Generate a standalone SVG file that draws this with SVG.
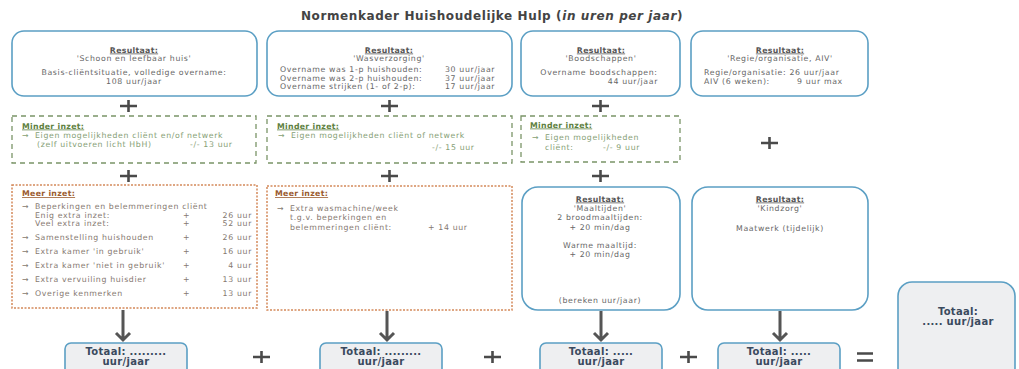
<svg xmlns="http://www.w3.org/2000/svg" width="1019" height="369" viewBox="0 0 1019 369">
<defs>
<style>
text{font-family:"DejaVu Sans","Liberation Sans",sans-serif;font-size:7.8px;letter-spacing:0.65px;fill:#666}
.title{font-size:12px;letter-spacing:0.6px;font-weight:bold;fill:#444}
.c{text-anchor:middle}
.e{text-anchor:end}
.hd{font-weight:bold;text-decoration:underline;fill:#555;letter-spacing:0.3px}
.blue{fill:#fff;stroke:#5b9fc4;stroke-width:1.6}
.minder{fill:#fff;stroke:#7a9467;stroke-width:1.3;stroke-dasharray:5 4}
.mhd{font-weight:bold;text-decoration:underline;fill:#5d8040;letter-spacing:0.3px}
.mt{fill:#86a075}
.meer{fill:#fff;stroke:#d4895a;stroke-width:1.5;stroke-dasharray:2 1.5}
.ehd{font-weight:bold;text-decoration:underline;fill:#9a5a2e;letter-spacing:0.3px}
.et{fill:#857870}
.tot{fill:#eeeff1;stroke:#5b9fc4;stroke-width:1.6}
.tt{font-weight:bold;font-size:10px;letter-spacing:0.3px;fill:#3a4a5e;text-anchor:middle}
.op{stroke:#4a4a4a;stroke-width:2.6;fill:none}
.arr{stroke:#555;stroke-width:3;fill:none}
</style>
</defs>
<rect width="1019" height="369" fill="#fff"/>
<text class="title c" x="492" y="20">Normenkader Huishoudelijke Hulp (<tspan font-style="italic">in uren per jaar</tspan>)</text>

<g id="res-schoon">
<rect class="blue" x="12" y="31" width="245" height="65" rx="12"/>
<text class="hd c" x="134" y="52.5">Resultaat:</text>
<text class="c" x="134" y="60.5">'Schoon en leefbaar huis'</text>
<text class="c" x="134" y="75">Basis-cliëntsituatie, volledige overname:</text>
<text class="c" x="134" y="83.5">108 uur/jaar</text>
</g>
<g id="res-was">
<rect class="blue" x="267" y="31" width="245" height="65" rx="12"/>
<text class="hd c" x="389" y="52.5">Resultaat:</text>
<text class="c" x="389" y="60.5">'Wasverzorging'</text>
<text x="280" y="72">Overname was 1-p huishouden:</text>
<text x="445" y="72">30 uur/jaar</text>
<text x="280" y="80.5">Overname was 2-p huishouden:</text>
<text x="445" y="80.5">37 uur/jaar</text>
<text x="280" y="89">Overname strijken (1- of 2-p):</text>
<text x="445" y="89">17 uur/jaar</text>
</g>
<g id="res-boodschappen">
<rect class="blue" x="521" y="31" width="159" height="65" rx="12"/>
<text class="hd c" x="601" y="52.5">Resultaat:</text>
<text class="c" x="601" y="60.5">'Boodschappen'</text>
<text class="c" x="599" y="75">Overname boodschappen:</text>
<text class="e" x="658" y="83.5">44 uur/jaar</text>
</g>
<g id="res-regie">
<rect class="blue" x="691" y="31" width="177" height="65" rx="12"/>
<text class="hd c" x="780" y="52.5">Resultaat:</text>
<text class="c" x="780" y="60.5">'Regie/organisatie, AIV'</text>
<text x="704" y="75">Regie/organisatie: 26 uur/jaar</text>
<text x="704" y="83.5">AIV (6 weken):</text>
<text x="797" y="83.5">9 uur max</text>
</g>

<g id="minder-schoon">
<rect class="minder" x="12" y="116" width="244" height="47"/>
<text class="mhd" x="22" y="128.5">Minder inzet:</text>
<text class="mt" x="22" y="137.5">→</text>
<text class="mt" x="35" y="137.5">Eigen mogelijkheden cliënt en/of netwerk</text>
<text class="mt" x="37" y="146.5">(zelf uitvoeren licht HbH)</text>
<text class="mt" x="190" y="146.5">-/- 13 uur</text>
</g>
<g id="minder-was">
<rect class="minder" x="267" y="116" width="245" height="47"/>
<text class="mhd" x="277" y="128.5">Minder inzet:</text>
<text class="mt" x="278" y="137.5">→</text>
<text class="mt" x="291" y="137.5">Eigen mogelijkheden cliënt of netwerk</text>
<text class="mt" x="432" y="150">-/- 15 uur</text>
</g>
<g id="minder-boodschappen">
<rect class="minder" x="521" y="116" width="159" height="46"/>
<text class="mhd" x="530" y="127.5">Minder inzet:</text>
<text class="mt" x="532" y="139.5">→</text>
<text class="mt" x="545" y="139.5">Eigen mogelijkheden</text>
<text class="mt" x="545" y="149.5">cliënt:</text>
<text class="mt" x="603" y="149.5">-/- 9 uur</text>
</g>

<g id="meer-schoon">
<rect class="meer" x="12" y="185" width="245" height="123"/>
<text class="ehd" x="22" y="196">Meer inzet:</text>
<text class="et" x="22" y="209">→</text>
<text class="et" x="35" y="209">Beperkingen en belemmeringen cliënt</text>
<text class="et" x="35" y="217.5">Enig extra inzet:</text>
<text class="et" x="183" y="217.5">+</text>
<text class="et e" x="252" y="217.5">26 uur</text>
<text class="et" x="35" y="226">Veel extra inzet:</text>
<text class="et" x="183" y="226">+</text>
<text class="et e" x="252" y="226">52 uur</text>
<text class="et" x="22" y="240">→</text>
<text class="et" x="35" y="240">Samenstelling huishouden</text>
<text class="et" x="183" y="240">+</text>
<text class="et e" x="252" y="240">26 uur</text>
<text class="et" x="22" y="254">→</text>
<text class="et" x="35" y="254">Extra kamer 'in gebruik'</text>
<text class="et" x="183" y="254">+</text>
<text class="et e" x="252" y="254">16 uur</text>
<text class="et" x="22" y="268">→</text>
<text class="et" x="35" y="268">Extra kamer 'niet in gebruik'</text>
<text class="et" x="183" y="268">+</text>
<text class="et e" x="252" y="268">4 uur</text>
<text class="et" x="22" y="282">→</text>
<text class="et" x="35" y="282">Extra vervuiling huisdier</text>
<text class="et" x="183" y="282">+</text>
<text class="et e" x="252" y="282">13 uur</text>
<text class="et" x="22" y="296">→</text>
<text class="et" x="35" y="296">Overige kenmerken</text>
<text class="et" x="183" y="296">+</text>
<text class="et e" x="252" y="296">13 uur</text>
</g>
<g id="meer-was">
<rect class="meer" x="267" y="186" width="245" height="124"/>
<text class="ehd" x="275" y="196">Meer inzet:</text>
<text class="et" x="277" y="210.5">→</text>
<text class="et" x="290" y="210.5">Extra wasmachine/week</text>
<text class="et" x="290" y="219.5">t.g.v. beperkingen en</text>
<text class="et" x="290" y="229.5">belemmeringen cliënt:</text>
<text class="et" x="428" y="229.5">+ 14 uur</text>
</g>

<g id="res-maaltijden">
<rect class="blue" x="522" y="187" width="158" height="123" rx="16"/>
<text class="hd c" x="600" y="201.5">Resultaat:</text>
<text class="c" x="600" y="210.5">'Maaltijden'</text>
<text class="c" x="600" y="220">2 broodmaaltijden:</text>
<text class="c" x="600" y="229.5">+ 20 min/dag</text>
<text class="c" x="600" y="247.5">Warme maaltijd:</text>
<text class="c" x="600" y="256.5">+ 20 min/dag</text>
<text class="c" x="600" y="302.5">(bereken uur/jaar)</text>
</g>
<g id="res-kindzorg">
<rect class="blue" x="692" y="187" width="176" height="123" rx="16"/>
<text class="hd c" x="780" y="201.5">Resultaat:</text>
<text class="c" x="780" y="210.5">'Kindzorg'</text>
<text class="c" x="780" y="230.5">Maatwerk (tijdelijk)</text>
</g>

<g id="totaal-1">
<rect class="tot" x="65" y="343" width="122" height="40" rx="6"/>
<text class="tt" x="126" y="355">Totaal: .........</text>
<text class="tt" x="126" y="365">uur/jaar</text>
</g>
<g id="totaal-2">
<rect class="tot" x="320" y="343" width="122" height="40" rx="6"/>
<text class="tt" x="381" y="355">Totaal: .........</text>
<text class="tt" x="381" y="365">uur/jaar</text>
</g>
<g id="totaal-3">
<rect class="tot" x="540" y="343" width="122" height="40" rx="6"/>
<text class="tt" x="601" y="355">Totaal: .....</text>
<text class="tt" x="601" y="365">uur/jaar</text>
</g>
<g id="totaal-4">
<rect class="tot" x="718" y="343" width="122" height="40" rx="6"/>
<text class="tt" x="779" y="355">Totaal: .....</text>
<text class="tt" x="779" y="365">uur/jaar</text>
</g>
<g id="totaal-eind">
<rect class="tot" x="898" y="282" width="117" height="100" rx="14"/>
<text class="tt" x="958" y="315">Totaal:</text>
<text class="tt" x="958" y="325">..... uur/jaar</text>
</g>

<g id="operators">
<path class="op" d="M120 106h17M128.5 100v12"/>
<path class="op" d="M381 106h17M389.5 100v12"/>
<path class="op" d="M592 106h17M600.5 100v12"/>
<path class="op" d="M761 143h17M769.5 137v12"/>
<path class="op" d="M120 176h17M128.5 170v12"/>
<path class="op" d="M381 176h17M389.5 170v12"/>
<path class="op" d="M592 176h17M600.5 170v12"/>
<path class="op" d="M253 357h17M261.5 351v12"/>
<path class="op" d="M484 357h17M492.5 351v12"/>
<path class="op" d="M680 357h17M688.5 351v12"/>
<path class="op" d="M857 353.5h16M857 360.5h16"/>
</g>

<g id="connectors">
<path class="arr" d="M123 310V340M116 333L123 340L130 333"/>
<path class="arr" d="M387 311V340M380 333L387 340L394 333"/>
<path class="arr" d="M601 311V340M594 333L601 340L608 333"/>
<path class="arr" d="M780 311V340M773 333L780 340L787 333"/>
</g>
</svg>
